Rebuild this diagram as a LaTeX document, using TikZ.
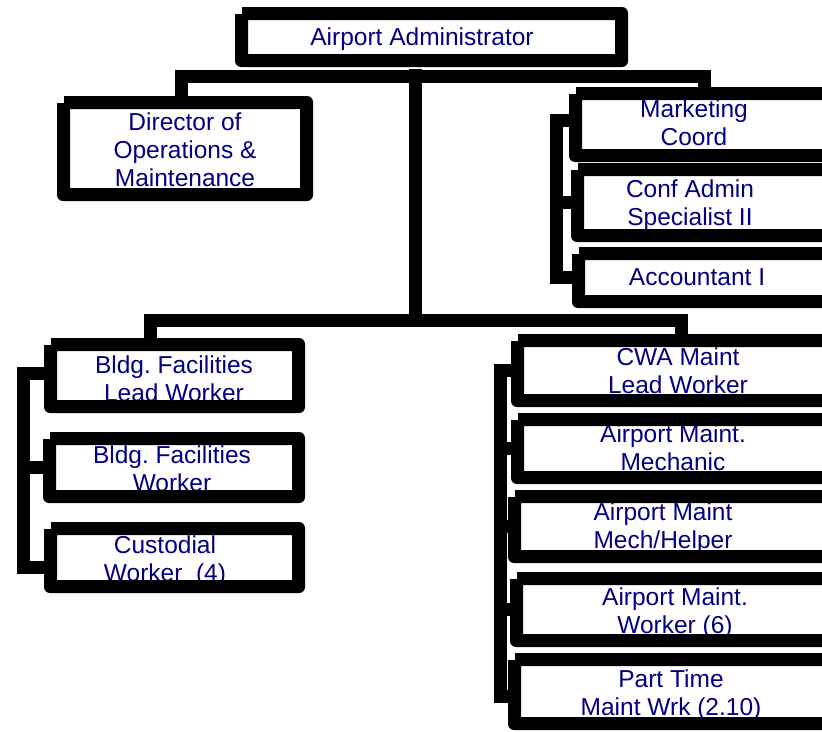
\documentclass[tikz,border=0pt]{standalone}
\usepackage{fontspec}
\setmainfont{Liberation Sans}
\definecolor{labelnavy}{RGB}{0,0,128}
\frenchspacing

\tikzset{
  boxshape/.style={rectangle, draw=none, inner sep=0pt, outer sep=0pt},
  boxtext/.style={anchor=north, align=center, inner sep=0pt, text=labelnavy,
                  font=\fontsize{24.5}{28}\selectfont},
  boxframe/.style={fill=black, even odd rule},
  conn/.style={draw=black, line width=13pt, line join=miter, line cap=butt},
}

% \orgbox{name}{left}{top}{right}{bottom}{text x}{first baseline}{text}
\newcommand{\orgbox}[8]{%
  \pgfmathsetmacro{\bw}{#4-#2}\pgfmathsetmacro{\bh}{#5-#3}%
  \pgfmathsetmacro{\bx}{(#2+#4)/2}\pgfmathsetmacro{\by}{(#3+#5)/2}%
  \node[boxshape, minimum width=\bw pt, minimum height=\bh pt] (#1) at (\bx,\by) {};
  \node[boxtext] (#1-t) at (#6,#7-19) {\rule{0pt}{19pt}#8};
  \fill[boxframe] (#2+7,#3) [rounded corners=6pt] -- (#4,#3) -- (#4,#5) -- (#2,#5)
        [sharp corners] -- (#2,#3+7) -- (#2+7,#3+7) -- cycle
        (#2+13,#3+13) rectangle (#4-13,#5-13);
}

\begin{document}
\begin{tikzpicture}[x=1pt,y=-1pt]
\useasboundingbox (0,0) rectangle (822,731);
\clip (0,0) rectangle (822,731);
\fill[white] (0,0) rectangle (822,731);

% head of the office
\orgbox{admin}{235}{7}{628}{67}{422}{45}{Airport Administrator}
\orgbox{dir}{57}{96}{313}{201}{185}{130}{Director of\\Operations \&\\Maintenance}

% administrative staff
\orgbox{mkt}{569}{87}{840}{162}{694}{117}{Marketing\\Coord}
\orgbox{conf}{571}{163}{840}{242}{690}{197}{Conf Admin\\Specialist II}
\orgbox{acct}{572}{247}{840}{308}{697}{285}{Accountant I}

% building facilities crew
\orgbox{bf1}{44}{338}{305}{413}{174}{373}{Bldg. Facilities\\Lead Worker}
\orgbox{bf2}{43}{432}{305}{503}{172}{463}{Bldg. Facilities\\Worker}
\orgbox{cust}{44}{522}{305}{593}{165}{553}{Custodial\\Worker\ \ (4)}

% airfield maintenance crew
\orgbox{cwa}{511}{334}{840}{407}{678}{365}{CWA Maint\\Lead Worker}
\orgbox{mech}{511}{413}{840}{484}{673}{442}{Airport Maint.\\Mechanic}
\orgbox{help}{508}{490}{840}{563}{663}{520}{Airport Maint\\Mech/Helper}
\orgbox{work}{510}{572}{840}{647}{675}{605}{Airport Maint.\\Worker (6)}
\orgbox{part}{508}{653}{840}{730}{671}{687}{Part Time\\Maint Wrk (2.10)}

% buses
\coordinate (topbus) at (415,76);
\coordinate (lowbus) at (415,320);
\draw[conn] ([xshift=-4pt]dir.north) |- (topbus) -| (mkt.north);
\draw[conn] ([xshift=-16.5pt,yshift=-2pt]admin.south) -- (lowbus);
\draw[conn] ([xshift=-24.5pt]bf1.north) |- (lowbus) -| ([xshift=5.5pt]cwa.north);

% side brackets
\coordinate (rbr) at (556,200);
\draw[conn] ([yshift=4.5pt]mkt.west) -| (rbr) |- (acct.west);
\draw[conn] (conf.west) -- (conf.west -| rbr);

\coordinate (lbr) at (23.5,470);
\draw[conn] ([yshift=2.5pt]bf1.west) -| (lbr) |- ([yshift=-9.5pt]cust.west);
\draw[conn] (bf2.west) -- (bf2.west -| lbr);

\coordinate (rlb) at (500,530);
\draw[conn] (cwa.west) -| (rlb) |- ([yshift=-4.5pt]part.west);
\foreach \n in {mech,help,work} \draw[conn] (\n.west) -- (\n.west -| rlb);
\end{tikzpicture}
\end{document}
